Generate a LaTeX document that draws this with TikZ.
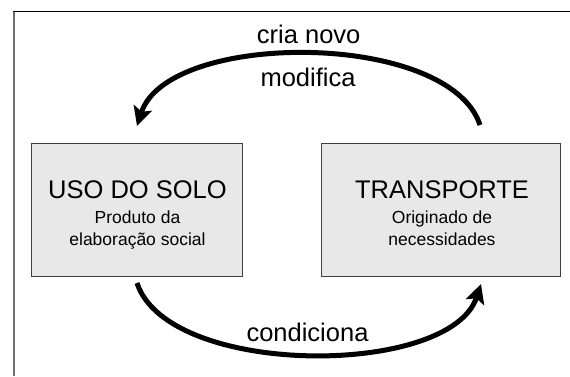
\documentclass[tikz,border=0pt]{standalone}
\usepackage{fontspec}
\setmainfont{Liberation Sans}
\usetikzlibrary{arrows.meta,calc}
\definecolor{boxfill}{HTML}{E8E8E8}
\definecolor{boxline}{HTML}{404040}
\definecolor{frameleft}{HTML}{6E6E6E}
\begin{document}
\begin{tikzpicture}[x=1pt,y=-1pt,
  box/.style={draw=boxline,line width=1pt,fill=boxfill,inner sep=0pt},
  title/.style={anchor=base,inner sep=0pt,font=\fontsize{25.5}{30}\selectfont},
  sub/.style={anchor=base,inner sep=0pt,font=\fontsize{17.5}{21}\selectfont},
  lbl/.style={anchor=base,inner sep=0pt,font=\fontsize{25.5}{30}\selectfont},
  bigarrow/.style={line width=5pt,-{Stealth[length=19pt,width=19pt,inset=4pt]}}]
\useasboundingbox (0,0) rectangle (570,376);
% frame
\draw[frameleft,line width=2pt] (14,11) -- (14,376);
\draw[black,line width=1.2pt] (13,11.5) -- (570,11.5);
% boxes
\node[box,minimum width=211.7pt,minimum height=132.7pt] (uso) at (136.85,209.65) {};
\node[box,minimum width=239pt,minimum height=132.7pt] (transp) at (440.5,209.65) {};
% box texts
\node[title] (usoT) at (137.5,198.3) {USO DO SOLO};
\node[sub] (usoS1) at (137.5,223.3) {Produto da};
\node[sub] (usoS2) at (137.5,245) {elaboração social};
\node[title] (trT) at (442,198.3) {TRANSPORTE};
\node[sub] (trS1) at (442,223.3) {Originado de};
\node[sub] (trS2) at (442,245) {necessidades};
% arrow end points
\coordinate (topA) at (480,125);
\coordinate (topB) at (137,126);
\coordinate (botA) at (137,283);
\coordinate (botB) at (481,284);
\draw[bigarrow] (topA) .. controls (449,30.3) and (168,30.3) .. (topB);
\draw[bigarrow] (botA) .. controls (168,377.7) and (450,377.7) .. (botB);
% labels
\node[lbl] (l1) at (308.7,43.3) {cria novo};
\node[lbl] (l2) at (308,86.7) {modifica};
\node[lbl] (l3) at (307.5,341.7) {condiciona};
\end{tikzpicture}
\end{document}
